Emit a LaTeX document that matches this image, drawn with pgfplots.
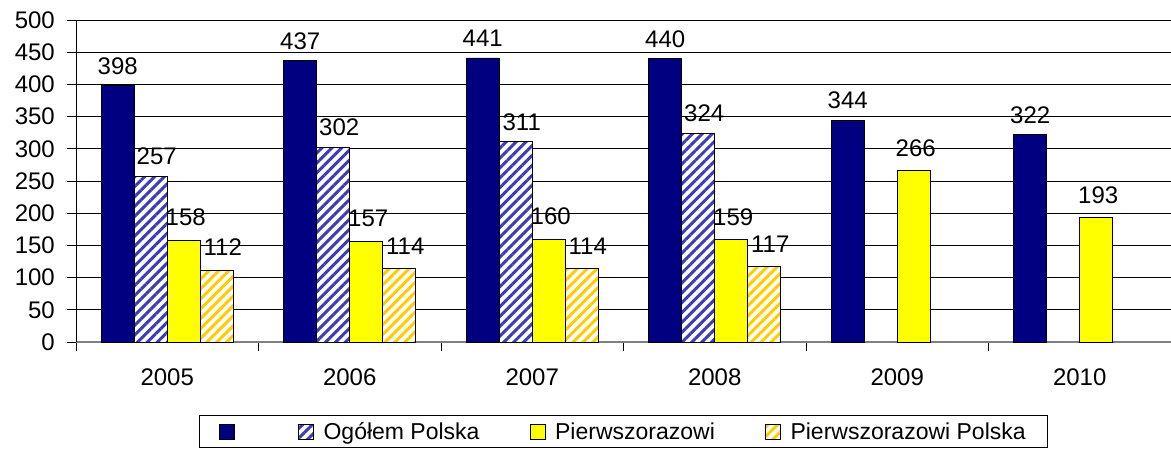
\documentclass[border=0pt]{standalone}
\usepackage{fontspec}
\setmainfont{Liberation Sans}
\usepackage{pgfplots}
\pgfplotsset{compat=1.18}
\usetikzlibrary{patterns.meta}
\definecolor{navy}{HTML}{000080}
\definecolor{hblue}{HTML}{3C3CB4}
\definecolor{yel}{HTML}{FFFF00}
\definecolor{hyel}{HTML}{FFCC00}
\begin{document}
\begin{tikzpicture}
\begin{axis}[
  at={(0,0)}, anchor=south west,
  scale only axis, width=1095pt, height=322pt,
  xmin=-0.5, xmax=5.5, ymin=0, ymax=500,
  ybar=0pt, bar width=33pt,
  ytick={0,50,...,500},
  xtick={0,...,5}, xticklabels={2005,2006,2007,2008,2009,2010},
  minor xtick={-0.5,0.5,...,5.5},
  axis lines*=left,
  x axis line style={-, draw=gray, line width=2pt},
  y axis line style={-, draw=black, line width=0.8pt},
  ymajorgrids, grid style={black, line width=0.8pt},
  tick align=outside,
  major tick length=9pt, minor tick length=9pt,
  major x tick style={draw=none},
  minor x tick style={draw=black, line width=0.8pt},
  ytick style={draw=black, line width=0.8pt},
  tick label style={font=\fontsize{24}{28}\selectfont, text=black},
  xticklabel style={anchor=north, inner sep=0pt, yshift=-18pt},
  yticklabel style={anchor=east, inner sep=0pt, xshift=-12pt},
  /pgf/number format/assume math mode=true,
  nodes near coords,
  every node near coord/.append style={font=\fontsize{24}{28}\selectfont, text=black, inner sep=0pt, yshift=11pt},
  legend style={at={(0,0)}, anchor=north west, xshift=123pt, yshift=-73pt,
    draw=black, line width=0.8pt, font=\fontsize{23}{27}\selectfont,
    inner xsep=20pt, inner ysep=5pt,
    /tikz/every odd column/.append style={column sep=8pt},
    /tikz/every even column/.append style={column sep=48pt}},
  legend columns=4,
  legend cell align=left,
  legend image code/.code={\draw[#1, draw=black, line width=0.6pt] (0pt,-7.5pt) rectangle (15pt,7.5pt);},
]
\addplot[fill=navy, draw=black, line width=0.6pt]
  coordinates {(0,398) (1,437) (2,441) (3,440) (4,344) (5,322)};
\addlegendentry{\hspace*{3pt}}
\addplot[preaction={fill=white}, pattern={Lines[angle=45,distance=7pt,line width=3pt]}, pattern color=hblue, draw=black, line width=0.6pt,
  every node near coord/.append style={xshift=6pt}]
  coordinates {(0,257) (1,302) (2,311) (3,324)};
\addlegendentry{Ogółem Polska}
\addplot[fill=yel, draw=black, line width=0.6pt,
  every node near coord/.append style={xshift=2pt, yshift=3pt}]
  coordinates {(0,158) (1,157) (2,160) (3,159) (4,266) (5,193)};
\addlegendentry{Pierwszorazowi}
\addplot[preaction={fill=white}, pattern={Lines[angle=45,distance=7pt,line width=3pt]}, pattern color=hyel, draw=black, line width=0.6pt,
  every node near coord/.append style={xshift=6pt, yshift=3pt}]
  coordinates {(0,112) (1,114) (2,114) (3,117)};
\addlegendentry{Pierwszorazowi Polska}
\end{axis}
\pgfresetboundingbox
\useasboundingbox (-76pt,-108pt) rectangle (1095pt,342pt);
\end{tikzpicture}
\end{document}
